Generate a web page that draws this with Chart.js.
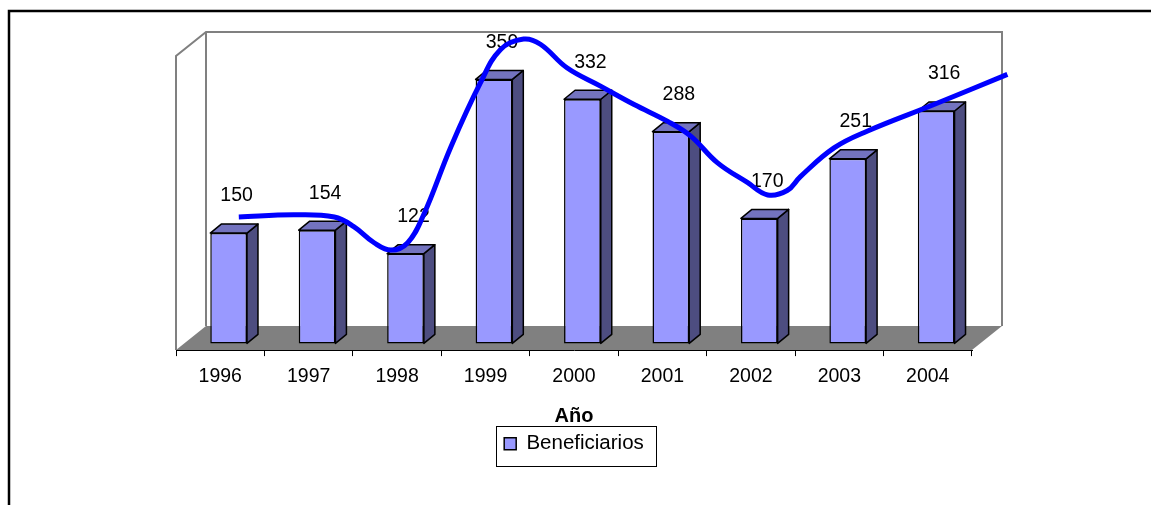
<!DOCTYPE html>
<html>
<head>
<meta charset="utf-8">
<script src="https://cdn.jsdelivr.net/npm/chart.js@4.4.1/dist/chart.umd.min.js"></script>
<style>
    html, body { margin: 0; padding: 0; background: #fff; }
    #wrap { width: 1151px; height: 505px; position: relative; }
</style>
</head>
<body>
<div id="wrap"><canvas id="chart" width="1151" height="505"></canvas></div>
<script>
// Values
const years = ['1996', '1997', '1998', '1999', '2000', '2001', '2002', '2003', '2004'];
const beneficiarios = [150, 154, 122, 359, 332, 288, 170, 251, 316];

// Hand drawn trend curve, sampled along its path (x in years, y in beneficiarios)
const curveYears = [1996.21, 1996.83, 1997.29, 1997.51, 1997.74, 1997.93, 1998.12, 1998.3, 1998.61, 1998.94,
    1999.17, 1999.43, 1999.62, 1999.92, 2000.3, 2000.68, 2001.06, 2001.32, 2001.62, 2001.96, 2002.19,
    2002.41, 2002.56, 2002.94, 2003.32, 2004.07, 2004.9];
const curveValues = [181, 184, 181, 168, 146, 136, 146, 184, 277, 363,
    409, 423, 416, 384, 359, 334, 311, 291, 255, 228, 211,
    217, 236, 275, 298, 334, 375];

const yMax = 400;
const FONT = "'Liberation Sans', Arial, sans-serif";

// 3D look (Excel style)
const depth = { x: 30, y: -24 };   // wall / floor depth
const barPos = 0.28;               // where the bars sit inside the depth
const barSide = { x: 11, y: -9 };  // bar thickness

const threeD = {
    id: 'threeD',
    beforeDraw(chart) {
        const ctx = chart.ctx;
        const { left, right, top, bottom } = chart.chartArea;
        ctx.save();
        // outer frame (only left and top are in view)
        ctx.strokeStyle = '#000';
        ctx.lineWidth = 2.5;
        ctx.beginPath();
        ctx.moveTo(9, chart.height);
        ctx.lineTo(9, 11);
        ctx.lineTo(chart.width, 11);
        ctx.stroke();

        // floor
        ctx.fillStyle = '#808080';
        ctx.beginPath();
        ctx.moveTo(left, bottom);
        ctx.lineTo(right, bottom);
        ctx.lineTo(right + depth.x, bottom + depth.y);
        ctx.lineTo(left + depth.x, bottom + depth.y);
        ctx.closePath();
        ctx.fill();

        // side wall and back wall outlines
        ctx.strokeStyle = '#808080';
        ctx.lineWidth = 2;
        ctx.beginPath();
        ctx.moveTo(left, bottom);
        ctx.lineTo(left, top);
        ctx.lineTo(left + depth.x, top + depth.y);
        ctx.lineTo(right + depth.x, top + depth.y);
        ctx.lineTo(right + depth.x, bottom + depth.y);
        ctx.moveTo(left + depth.x, top + depth.y);
        ctx.lineTo(left + depth.x, bottom + depth.y);
        ctx.stroke();
        ctx.restore();
    },
    beforeDatasetDraw(chart, args) {
        if (args.meta.type !== 'bar') return;
        chart.ctx.save();
        chart.ctx.translate(depth.x * barPos, depth.y * barPos);
    },
    afterDatasetDraw(chart, args) {
        if (args.meta.type !== 'bar') return;
        const ctx = chart.ctx;
        ctx.strokeStyle = '#000';
        ctx.lineWidth = 1.5;
        ctx.lineJoin = 'round';
        args.meta.data.forEach((bar, i) => {
            const { x, y, base, width } = bar.getProps(['x', 'y', 'base', 'width'], true);
            const x1 = x - width / 2;
            const x2 = x + width / 2;
            // side face
            ctx.fillStyle = '#4d4d80';
            ctx.beginPath();
            ctx.moveTo(x2, y);
            ctx.lineTo(x2 + barSide.x, y + barSide.y);
            ctx.lineTo(x2 + barSide.x, base + barSide.y);
            ctx.lineTo(x2, base);
            ctx.closePath();
            ctx.fill();
            ctx.stroke();
            // top face
            ctx.fillStyle = '#7373bf';
            ctx.beginPath();
            ctx.moveTo(x1, y);
            ctx.lineTo(x1 + barSide.x, y + barSide.y);
            ctx.lineTo(x2 + barSide.x, y + barSide.y);
            ctx.lineTo(x2, y);
            ctx.closePath();
            ctx.fill();
            ctx.stroke();
            // value label
            ctx.fillStyle = '#000';
            ctx.font = '19.5px ' + FONT;
            ctx.textAlign = 'center';
            ctx.textBaseline = 'middle';
            ctx.fillText(String(beneficiarios[i]), x + 8, y - 37);
        });
        ctx.restore();
    },
    afterDraw(chart) {
        // border round the legend
        const hit = chart.legend && chart.legend.legendHitBoxes[0];
        if (!hit) return;
        const ctx = chart.ctx;
        const cy = hit.top + hit.height / 2;
        ctx.save();
        ctx.strokeStyle = '#000';
        ctx.lineWidth = 1;
        ctx.strokeRect(Math.round(hit.left - 8) + 0.5, Math.round(cy - 18) + 0.5, Math.round(hit.width + 20), 40);
        ctx.restore();
    }
};

const ctx = document.getElementById('chart').getContext('2d');
const chart = new Chart(ctx, {
    data: {
        labels: years,
        datasets: [{
            type: 'bar',
            label: 'Beneficiarios',
            data: beneficiarios,
            backgroundColor: '#9999ff',
            borderColor: '#000',
            borderWidth: 1.5,
            borderSkipped: false,
            grouped: false,
            categoryPercentage: 1,
            barPercentage: 0.415,
            clip: false,
            order: 2
        }, {
            type: 'line',
            label: 'Tendencia',
            data: curveYears.map((yr, i) => ({ x: yr, y: curveValues[i] })),
            xAxisID: 'xl',
            borderColor: '#0000ff',
            borderWidth: 5,
            pointRadius: 0,
            tension: 0.4,
            fill: false,
            clip: false,
            order: 1
        }]
    },
    options: {
        responsive: false,
        animation: false,
        layout: { padding: { left: 176, right: 179, top: 56, bottom: 41 } },
        scales: {
            x: {
                type: 'category',
                offset: true,
                grid: { offset: true, drawOnChartArea: false, drawTicks: true, tickLength: 6, color: '#000' },
                border: { display: true, color: '#000', width: 1 },
                ticks: { color: '#000', font: { size: 19.5, family: FONT }, padding: 9, maxRotation: 0, autoSkip: false },
                title: {
                    display: true, text: 'Año', color: '#000',
                    font: { size: 20, weight: 'bold', family: FONT },
                    padding: { top: 7, bottom: 0 }
                }
            },
            xl: { type: 'linear', display: false, min: 1995.5, max: 2004.5 },
            y: { display: false, min: 0, max: yMax }
        },
        plugins: {
            legend: {
                position: 'bottom',
                labels: {
                    color: '#000',
                    font: { size: 20.5, family: FONT },
                    boxWidth: 12,
                    boxHeight: 12,
                    padding: 5,
                    filter: item => item.datasetIndex === 0
                }
            },
            tooltip: { enabled: false }
        }
    },
    plugins: [threeD]
});
</script>
</body>
</html>
